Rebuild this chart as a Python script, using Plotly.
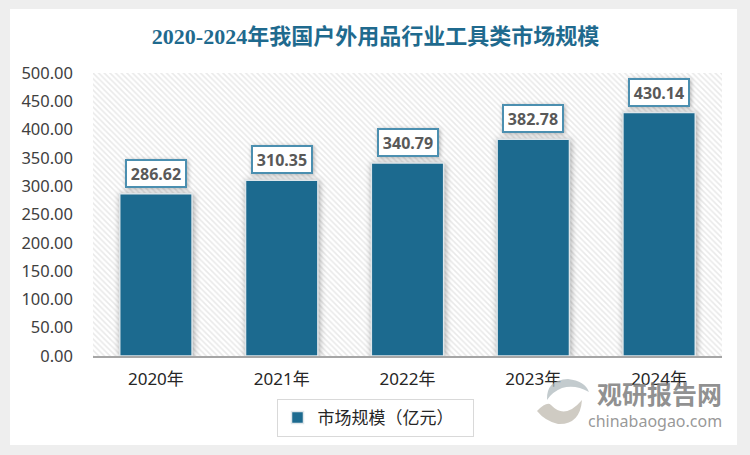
import plotly.graph_objects as go

categories = ["2020年", "2021年", "2022年", "2023年", "2024年"]
values = [286.62, 310.35, 340.79, 382.78, 430.14]
series_name = "市场规模（亿元）"
title_text = "2020-2024年我国户外用品行业工具类市场规模"
y_ticks = [0, 50, 100, 150, 200, 250, 300, 350, 400, 450, 500]
y_max = 500

W, H = 750, 455
L, R, T, B = 93, 28, 73, 99
pw, ph = W - L - R, H - T - B
px = lambda v: (v - L) / pw
py = lambda v: (H - B - v) / ph

fig = go.Figure()
# hatched plot background lives on the lower x axis; data sits on the overlaying one
fig.add_trace(go.Bar(x=["bg"], y=[y_max], xaxis="x", yaxis="y", width=1, showlegend=False, hoverinfo="skip",
                     marker=dict(color="white", line_width=0,
                                 pattern=dict(shape="\\", fgcolor="#d4d4d4", bgcolor="#ffffff", size=4, solidity=0.4))))
fig.add_trace(go.Bar(x=categories, y=values, name=series_name, xaxis="x2", yaxis="y",
                     marker=dict(color="#1c6a8f", line=dict(color="#dfe6ea", width=1.5))))

shapes = [dict(type="rect", xref="paper", yref="paper", x0=px(10), x1=px(737), y0=py(445), y1=py(9),
               fillcolor="white", line_width=0, layer="below", name="frame")]

anns = []
for c, v in zip(categories, values):
    anns.append(dict(x=c, y=v, xref="x2", yref="y", text=f"{v:.2f}", showarrow=False, yanchor="bottom", yshift=6,
                     width=58, height=25, align="center", valign="middle",
                     font=dict(family="Noto Sans", size=16, color="#595959", weight="bold"),
                     bgcolor="white", bordercolor="#4b8fb0", borderwidth=2, borderpad=0, opacity=1))
# watermark
anns.append(dict(x=px(724), y=py(393), xref="paper", yref="paper", text="<b>观研报告网</b>", showarrow=False,
                 xanchor="right", yanchor="middle", font=dict(family="Noto Sans CJK SC", size=25, color="rgba(125,125,125,0.85)")))
anns.append(dict(x=px(724), y=py(421), xref="paper", yref="paper", text="chinabaogao.com", showarrow=False,
                 xanchor="right", yanchor="middle", font=dict(family="Noto Sans", size=16, color="rgba(140,140,140,0.9)")))

# logo swirl of the watermark
shapes.append(dict(type="path", xref="paper", yref="paper", layer="above", line_width=0, fillcolor="rgba(175,185,190,0.75)",
                   path=f"M {px(547)} {py(400)} Q {px(546)} {py(380)} {px(568)} {py(379)} Q {px(585)} {py(381)} {px(589)} {py(392)} "
                        f"Q {px(575)} {py(384)} {px(562)} {py(388)} Q {px(552)} {py(392)} {px(547)} {py(400)} Z"))
shapes.append(dict(type="path", xref="paper", yref="paper", layer="above", line_width=0, fillcolor="rgba(195,190,180,0.8)",
                   path=f"M {px(537)} {py(411)} Q {px(547)} {py(401)} {px(551)} {py(405)} Q {px(565)} {py(420)} {px(582)} {py(400)} "
                        f"Q {px(580)} {py(425)} {px(558)} {py(424)} Q {px(545)} {py(421)} {px(537)} {py(411)} Z"))

fig.update_layout(
    width=W, height=H, autosize=False,
    margin=dict(l=L, r=R, t=T, b=B, pad=0, autoexpand=False),
    paper_bgcolor="#eeeeee", plot_bgcolor="white",
    barmode="overlay",
    title=dict(text=f"<b>{title_text}</b>", x=(10 + 741) / 2 / W, xanchor="center", y=1 - 36 / H, yanchor="middle",
               font=dict(family="Liberation Serif, Noto Sans CJK SC", size=22, color="#1f6a8e")),
    xaxis=dict(type="category", visible=False, range=[-0.5, 0.5], anchor="y", automargin=False),
    xaxis2=dict(overlaying="x", anchor="y", side="bottom", type="category", categoryorder="array", categoryarray=categories,
                showgrid=False, showline=True, linecolor="#a6a6a6", linewidth=1.5, ticks="", zeroline=False,
                ticklabelstandoff=7, automargin=False,
                tickfont=dict(family="Noto Sans, Noto Sans CJK SC", size=17, color="#262626")),
    yaxis=dict(range=[0, y_max], tickvals=y_ticks, ticktext=[f"{t:.2f}" for t in y_ticks], showgrid=False, zeroline=False,
               showline=False, ticks="", ticklabelstandoff=19, automargin=False,
               tickfont=dict(family="Noto Sans", size=16.5, color="#404040")),
    bargap=0.425,
    showlegend=True,
    legend=dict(x=375 / W, xref="container", y=1 - 418 / H, yref="container", xanchor="center", yanchor="middle",
                orientation="h", bordercolor="#d9d9d9", borderwidth=1, bgcolor="white", itemwidth=30,
                entrywidth=150, entrywidthmode="pixels",
                font=dict(family="Noto Sans CJK SC", size=17, color="#262626")),
    shapes=shapes, annotations=anns,
)

post = """
document.documentElement.style.overflow='hidden';
document.body.style.margin='0';
document.body.style.overflow='hidden';
var gd=document.querySelector('.plotly-graph-div');
gd.querySelectorAll('.overplot .x2y .bars .point path, .x2y .trace.bars .point path').forEach(function(p){p.style.filter='drop-shadow(1px 1px 3px rgba(0,0,0,0.35))';});
gd.querySelectorAll('.annotation rect.bg').forEach(function(p){ if(p.style.fill && p.style.fill.indexOf('255')>=0){p.style.filter='drop-shadow(1px 1px 2px rgba(0,0,0,0.3))';}});
"""
fig.write_html("out.html", post_script=post, config=dict(displayModeBar=False))
